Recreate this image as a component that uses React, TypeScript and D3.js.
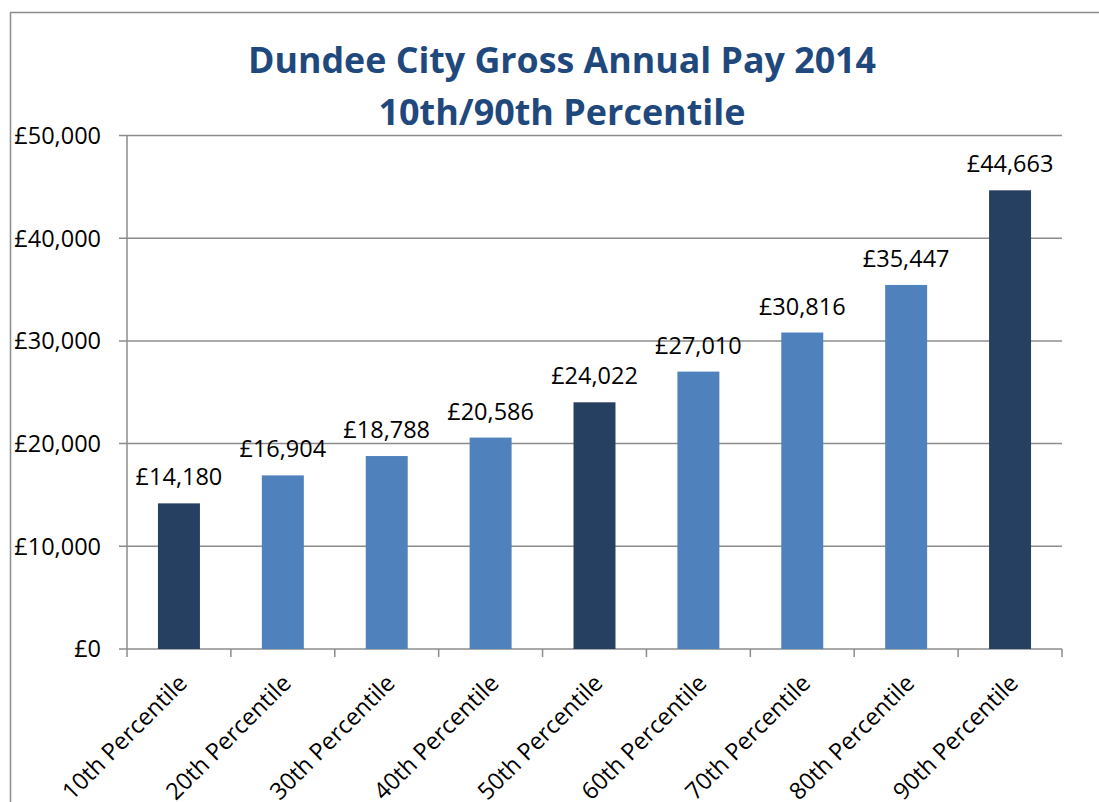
import React from "react";
import * as d3 from "d3";

const categories = [
  "10th Percentile",
  "20th Percentile",
  "30th Percentile",
  "40th Percentile",
  "50th Percentile",
  "60th Percentile",
  "70th Percentile",
  "80th Percentile",
  "90th Percentile",
];
const values = [14180, 16904, 18788, 20586, 24022, 27010, 30816, 35447, 44663];
const highlighted = ["10th Percentile", "50th Percentile", "90th Percentile"];
const yTicks = [0, 10000, 20000, 30000, 40000, 50000];
const titleLines = ["Dundee City Gross Annual Pay 2014", "10th/90th Percentile"];

const W = 1099;
const H = 802;
const plot = { left: 127, right: 1062, top: 135.5, bottom: 649 };
const FONT = "'Open Sans', 'Noto Sans', sans-serif";
const FS = 23.5;

export default function App() {
  const x = d3
    .scaleBand<string>()
    .domain(categories)
    .range([plot.left, plot.right])
    .paddingInner(0)
    .paddingOuter(0);
  const y = d3.scaleLinear().domain([0, 50000]).range([plot.bottom, plot.top]);
  const bw = x.bandwidth();
  const barW = bw * 0.404;
  const fmt = (v: number) => "£" + d3.format(",")(v);

  const boundaries = d3.range(categories.length + 1).map((i) => plot.left + i * bw);

  return (
    <svg
      width={W}
      height={H}
      style={{ position: "absolute", left: 0, top: 0, background: "#fff" }}
    >
      <rect x={0} y={0} width={W} height={H} fill="#fff" />
      {/* outer chart border */}
      <rect x={10.5} y={12.5} width={W + 20} height={H + 20} fill="none" stroke="#8c8c8c" strokeWidth={1.5} />

      {/* title */}
      {titleLines.map((t, i) => (
        <text
          key={t}
          x={562}
          y={i === 0 ? 72.5 : 125}
          textAnchor="middle"
          fontFamily={FONT}
          fontWeight={700}
          fontSize={36}
          fill="#1F497D"
          textLength={i === 0 ? 628 : 367}
          lengthAdjust="spacingAndGlyphs"
        >
          {t}
        </text>
      ))}

      {/* gridlines */}
      {yTicks.map((t) => (
        <line
          key={"g" + t}
          x1={plot.left - 8}
          x2={plot.right}
          y1={y(t)}
          y2={y(t)}
          stroke="#8c8c8c"
          strokeWidth={1.5}
        />
      ))}
      {/* y axis line */}
      <line x1={plot.left} x2={plot.left} y1={plot.top} y2={plot.bottom} stroke="#8c8c8c" strokeWidth={1.5} />
      {/* x ticks */}
      {boundaries.map((b, i) => (
        <line key={"xt" + i} x1={b} x2={b} y1={plot.bottom} y2={plot.bottom + 8} stroke="#8c8c8c" strokeWidth={1.5} />
      ))}

      {/* y tick labels */}
      {yTicks.map((t) => (
        <text
          key={"yl" + t}
          x={101}
          y={y(t)}
          dy="0.36em"
          textAnchor="end"
          fontFamily={FONT}
          fontSize={FS}
          fill="#000"
        >
          {fmt(t)}
        </text>
      ))}

      {/* bars */}
      {categories.map((c, i) => {
        const cx = (x(c) as number) + bw / 2;
        const v = values[i];
        return (
          <g key={c}>
            <rect
              x={cx - barW / 2}
              y={y(v)}
              width={barW}
              height={plot.bottom - y(v)}
              fill={highlighted.includes(c) ? "#254061" : "#4F81BD"}
            />
            <text
              x={cx}
              y={y(v) - 18}
              textAnchor="middle"
              fontFamily={FONT}
              fontSize={FS}
              fill="#000"
            >
              {fmt(v)}
            </text>
            <text
              transform={`translate(${cx - 2},${plot.bottom + 24}) rotate(-45)`}
              textAnchor="end"
              dy="0.7em"
              fontFamily={FONT}
              fontSize={FS}
              fill="#000"
            >
              {c}
            </text>
          </g>
        );
      })}
    </svg>
  );
}
